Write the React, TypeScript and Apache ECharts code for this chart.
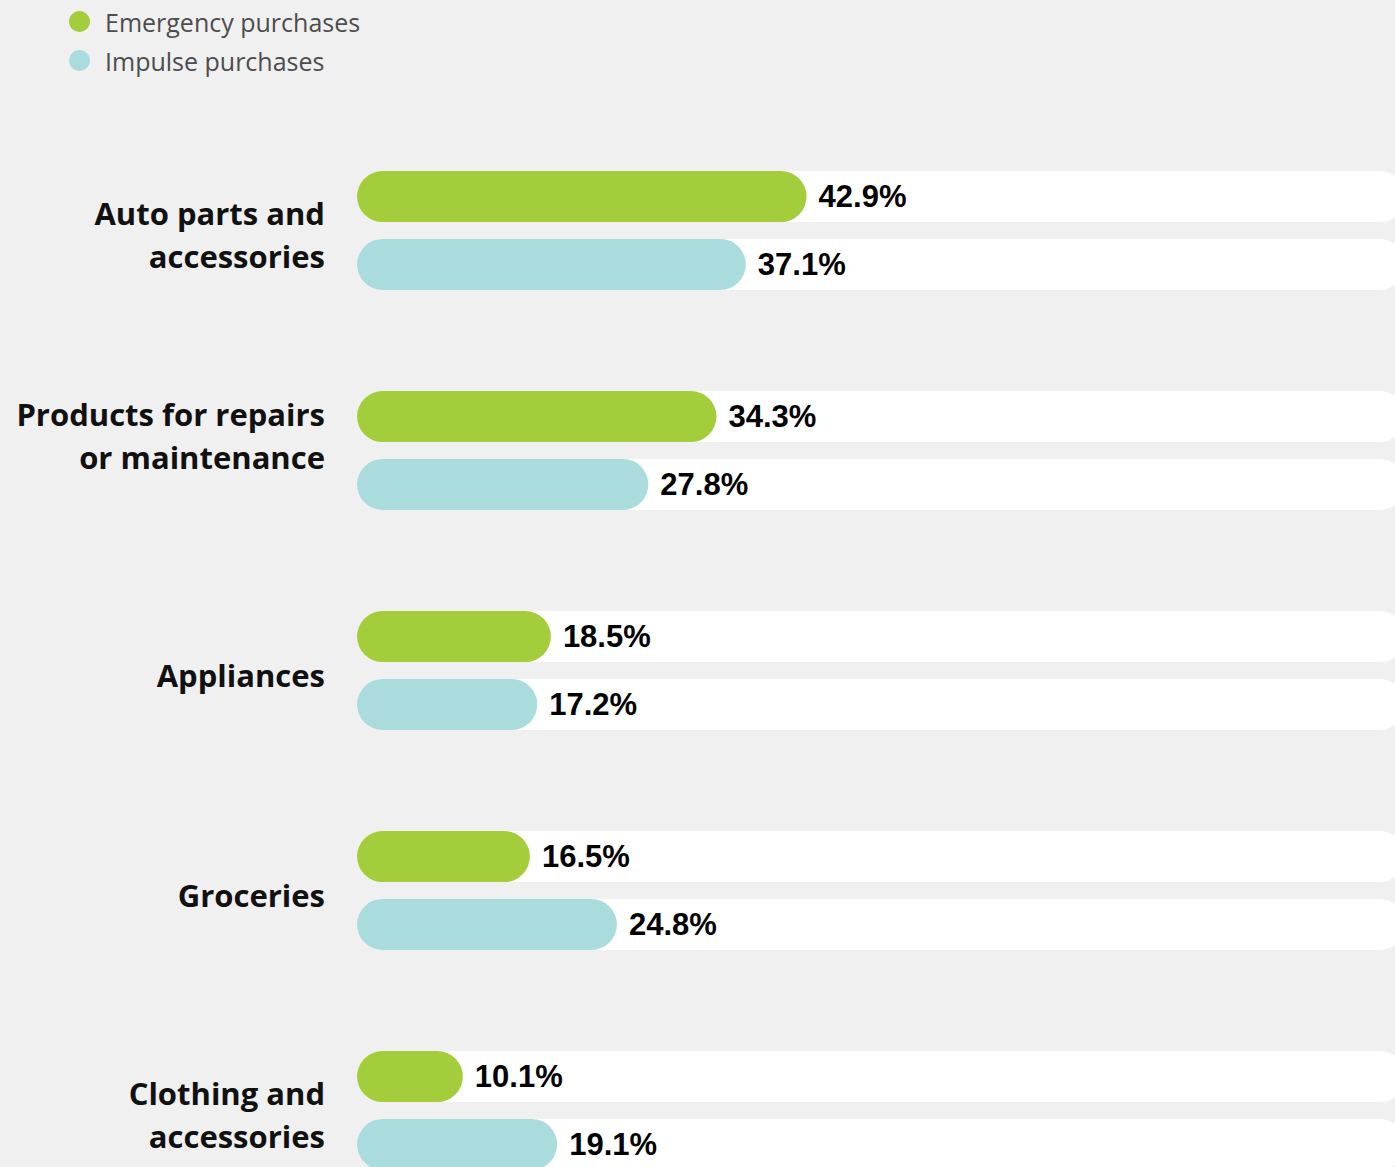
import React, { useEffect, useRef } from "react";
import * as echarts from "echarts";

const categories = [
  "Auto parts and\naccessories",
  "Products for repairs\nor maintenance",
  "Appliances",
  "Groceries",
  "Clothing and\naccessories",
];
const emergency = [42.9, 34.3, 18.5, 16.5, 10.1];
const impulse = [37.1, 27.8, 17.2, 24.8, 19.1];
const seriesNames = ["Emergency purchases", "Impulse purchases"];
const colors = ["#a3cd3b", "#aadcdd"];

export default function App() {
  const ref = useRef<HTMLDivElement>(null);
  useEffect(() => {
    document.body.style.margin = "0";
    document.body.style.background = "#f0f0f0";
    const chart = echarts.init(ref.current!, null, { renderer: "svg" });
    const valueLabel = {
      show: true,
      position: "right",
      distance: 12,
      formatter: "{c}%",
      color: "#000",
      fontFamily: "Liberation Sans",
      fontWeight: "bold",
      fontSize: 31,
    };
    const catText = {
      fontSize: 31,
      lineHeight: 43,
      fontWeight: "bold",
      color: "#111",
      fontFamily: "Open Sans",
      align: "right",
    };
    chart.setOption({
      animation: false,
      backgroundColor: "#f0f0f0",
      legend: {
        orient: "vertical",
        left: 64,
        top: 4,
        itemWidth: 21,
        itemHeight: 21,
        itemGap: 14,
        icon: "circle",
        data: seriesNames,
        textStyle: {
          fontSize: 25,
          color: "#4d4d4d",
          fontFamily: "Open Sans",
          padding: [0, 0, 0, 10],
        },
      },
      grid: { left: 357, right: 15, top: 120.5, bottom: 19.5, containLabel: false },
      xAxis: {
        type: "value",
        min: 0,
        max: 100,
        show: false,
      },
      yAxis: {
        type: "category",
        inverse: true,
        data: categories,
        axisLine: { show: false },
        axisTick: { show: false },
        splitLine: { show: false },
        axisLabel: {
          margin: 32,
          align: "right",
          formatter: (v: string, i: number) =>
            v
              .split("\n")
              .map((line) => `{${i === 1 ? "up" : "dn"}|${line}}`)
              .join("\n"),
          rich: {
            dn: { ...catText, padding: [8, 0, 0, 0] },
            up: { ...catText, padding: [0, 0, 30, 0] },
          },
        },
      },
      series: [
        {
          name: seriesNames[0],
          type: "bar",
          data: emergency,
          barWidth: 51,
          barGap: "33%",
          itemStyle: { color: colors[0], borderRadius: 26 },
          showBackground: true,
          backgroundStyle: { color: "#ffffff", borderRadius: 26 },
          label: valueLabel,
        },
        {
          name: seriesNames[1],
          type: "bar",
          data: impulse,
          barWidth: 51,
          barGap: "33%",
          itemStyle: { color: colors[1], borderRadius: 26 },
          showBackground: true,
          backgroundStyle: { color: "#ffffff", borderRadius: 26 },
          label: valueLabel,
        },
      ],
    });
    return () => chart.dispose();
  }, []);
  return (
    <div
      ref={ref}
      style={{ position: "fixed", left: 0, top: 0, width: 1420, height: 1240 }}
    />
  );
}
